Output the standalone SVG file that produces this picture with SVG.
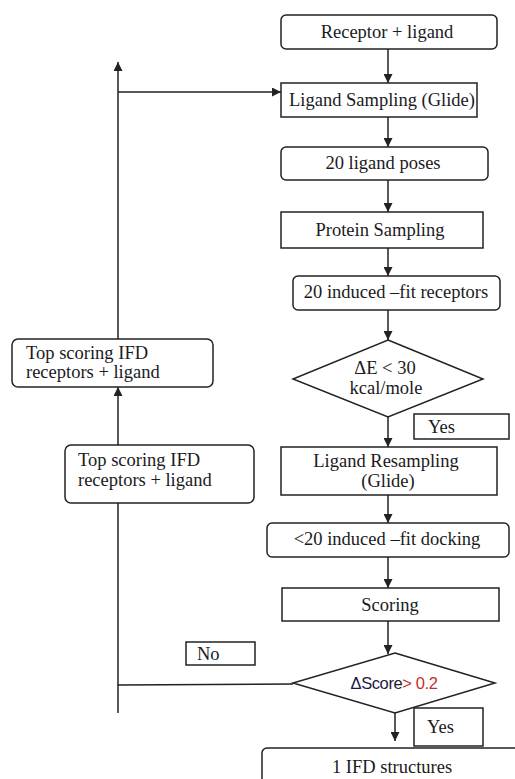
<svg xmlns="http://www.w3.org/2000/svg" width="515" height="779" viewBox="0 0 515 779">
<style>
.b{fill:#fff;stroke:#222;stroke-width:1.5}
.t{font-family:"Liberation Serif","Times New Roman",serif;font-size:18.5px;fill:#1a1a22}
.c{text-anchor:middle}
.l{fill:none;stroke:#222;stroke-width:1.5}
</style>
<defs>
<marker id="ah" viewBox="0 0 10 10" refX="10" refY="5" markerWidth="6" markerHeight="6" markerUnits="strokeWidth" orient="auto">
<path d="M0,0 L10,5 L0,10 z" fill="#222"/>
</marker>
</defs>
<rect width="515" height="779" fill="#fff"/>
<g id="connectors">
<line class="l" x1="388" y1="49" x2="388" y2="83" marker-end="url(#ah)"/>
<line class="l" x1="388" y1="117" x2="388" y2="147" marker-end="url(#ah)"/>
<line class="l" x1="388" y1="180" x2="388" y2="212" marker-end="url(#ah)"/>
<line class="l" x1="388" y1="248" x2="388" y2="276" marker-end="url(#ah)"/>
<line class="l" x1="388" y1="310" x2="388" y2="340" marker-end="url(#ah)"/>
<line class="l" x1="388" y1="417" x2="388" y2="447" marker-end="url(#ah)"/>
<line class="l" x1="388" y1="495" x2="388" y2="523" marker-end="url(#ah)"/>
<line class="l" x1="388" y1="557" x2="388" y2="588" marker-end="url(#ah)"/>
<line class="l" x1="388" y1="621" x2="388" y2="654" marker-end="url(#ah)"/>
<line class="l" x1="395" y1="706" x2="395" y2="741" marker-end="url(#ah)"/>
<polyline class="l" points="293,684 118,685 118,713"/>
<line class="l" x1="118" y1="503" x2="118" y2="685"/>
<line class="l" x1="118" y1="445" x2="118" y2="387" marker-end="url(#ah)"/>
<line class="l" x1="118" y1="339" x2="118" y2="62" marker-end="url(#ah)"/>
<line class="l" x1="118" y1="92" x2="281" y2="92" marker-end="url(#ah)"/>
</g>
<g id="n1"><rect class="b" x="281" y="15" width="216" height="34" rx="5"/><text class="t c" x="387" y="38">Receptor + ligand</text></g>
<g id="n2"><rect class="b" x="281" y="83" width="196" height="34"/><text class="t c" x="382" y="106">Ligand Sampling (Glide)</text></g>
<g id="n3"><rect class="b" x="281" y="147" width="207" height="33" rx="5"/><text class="t c" x="383" y="169">20 ligand poses</text></g>
<g id="n4"><rect class="b" x="281" y="212" width="202" height="36"/><text class="t c" x="380" y="236">Protein Sampling</text></g>
<g id="n5"><rect class="b" x="293" y="276" width="207" height="34" rx="5"/><text class="t c" x="396" y="298">20 induced –fit receptors</text></g>
<g id="d1"><polygon class="b" points="388,340 483,379 388,417 293,379"/><text class="t c" x="385" y="374">ΔE &lt; 30</text><text class="t c" x="386" y="394">kcal/mole</text></g>
<g id="yes1"><rect class="b" x="414" y="414" width="95" height="25"/><text class="t" x="428" y="433">Yes</text></g>
<g id="n6"><rect class="b" x="281" y="447" width="216" height="48"/><text class="t c" x="386" y="467">Ligand Resampling</text><text class="t c" x="388" y="487">(Glide)</text></g>
<g id="n7"><rect class="b" x="267" y="523" width="242" height="34" rx="5"/><text class="t c" x="387" y="545">&lt;20 induced –fit docking</text></g>
<g id="n8"><rect class="b" x="282" y="588" width="217" height="33"/><text class="t c" x="390" y="611">Scoring</text></g>
<g id="d2"><polygon class="b" points="395,653 495,683 395,713 293,683"/><text x="394" y="689" text-anchor="middle" font-family="'Liberation Sans',Arial,sans-serif" font-size="16.5" letter-spacing="-0.4" fill="#1a1a40">ΔScore<tspan fill="#c0302a">&gt; 0.2</tspan></text></g>
<g id="yes2"><rect class="b" x="414" y="708" width="69" height="38"/><text class="t" x="427" y="733">Yes</text></g>
<g id="n9"><rect class="b" x="262" y="748" width="262" height="45" rx="5"/><text class="t c" x="392" y="773">1 IFD structures</text></g>
<g id="top1"><rect class="b" x="12" y="339" width="201" height="48" rx="6"/><text class="t" x="26" y="359">Top scoring IFD</text><text class="t" x="26" y="378">receptors + ligand</text></g>
<g id="top2"><rect class="b" x="65" y="445" width="189" height="58" rx="6"/><text class="t" x="78" y="466">Top scoring IFD</text><text class="t" x="78" y="486">receptors + ligand</text></g>
<g id="no"><rect class="b" x="186" y="642" width="69" height="23"/><text class="t" x="197" y="660">No</text></g>
</svg>
